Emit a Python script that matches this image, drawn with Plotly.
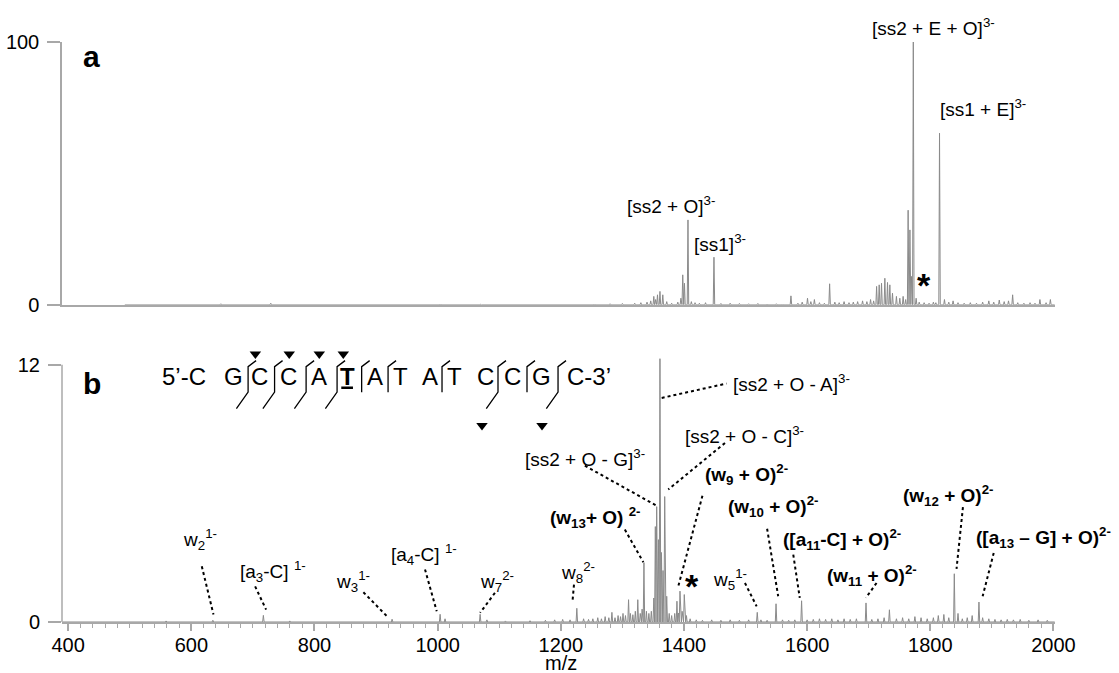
import plotly.graph_objects as go

# ---------------- data ----------------
top_mz = [648, 729, 1005, 1070, 1150, 1210, 1255, 1280, 1300, 1320, 1330, 1340, 1346, 1351, 1354, 1357,
          1361, 1365.6, 1372, 1380, 1390, 1395, 1398, 1400.8, 1406.5, 1412, 1418, 1425, 1435, 1448.7,
          1460, 1475, 1490, 1505, 1520, 1535, 1550, 1560, 1573.7, 1585, 1592, 1600.6, 1606, 1611.8,
          1620, 1628, 1636.5, 1645, 1652, 1660, 1668, 1675, 1682, 1690, 1697, 1703, 1708, 1712.8,
          1717, 1720.8, 1726.2, 1730.5, 1734.3, 1738.6, 1745, 1750.5, 1755.9, 1760, 1764, 1766.9,
          1769.6, 1772.4, 1777, 1782, 1790, 1798, 1805, 1809, 1815, 1823, 1830, 1837, 1845, 1855,
          1865, 1875, 1885, 1895, 1903, 1912, 1920, 1927, 1933.7, 1942, 1952, 1962, 1970, 1978,
          1988, 1995]
top_int = [0.4, 0.6, 0.3, 0.2, 0.2, 0.2, 0.3, 0.4, 0.5, 0.6, 0.8, 1.0, 1.5, 3.2, 2.0, 3.8,
           5.1, 3.8, 1.2, 0.6, 1.0, 2.5, 11.4, 8.2, 32.3, 1.2, 0.8, 0.6, 0.8, 18.1,
           0.5, 0.6, 0.5, 0.4, 0.5, 0.3, 0.4, 0.3, 3.4, 0.6, 1.0, 2.5, 1.2, 2.0,
           0.8, 0.6, 8.0, 1.0, 0.8, 1.2, 0.8, 1.0, 1.2, 1.5, 1.2, 2.0, 1.5, 7.0,
           7.6, 8.2, 10.1, 8.5, 7.6, 4.4, 3.2, 2.5, 3.2, 2.0, 36.0, 28.5,
           10.8, 100.0, 2.5, 1.0, 0.8, 0.6, 1.0, 0.8, 65.3, 2.0, 1.0, 1.5, 0.8, 0.6,
           0.8, 0.6, 1.0, 1.5, 1.0, 1.8, 1.2, 1.5, 3.8, 0.8, 0.6, 0.8, 0.6, 2.0,
           0.8, 2.0]

bot_mz = [559, 635, 717, 760, 926, 1004, 1012, 1069, 1080, 1110, 1150, 1175, 1190, 1203, 1215, 1226,
          1237, 1245, 1252, 1260, 1266, 1272, 1278, 1283, 1288, 1293, 1297, 1301, 1305, 1310, 1313,
          1317, 1321, 1325, 1329, 1332, 1335, 1339, 1343, 1347, 1351, 1353.5, 1355.7, 1358.5, 1361,
          1363.5, 1366, 1368.7, 1372, 1376, 1380, 1385, 1388.6, 1391, 1393.5, 1397, 1400.5, 1404,
          1410, 1420, 1430, 1445, 1460, 1475, 1490, 1505, 1519, 1525, 1535, 1549.5, 1560, 1570,
          1580, 1591, 1600, 1610, 1620, 1630, 1640, 1650, 1660, 1670, 1680, 1695.6, 1705, 1715,
          1725, 1733.6, 1745, 1755, 1765, 1775, 1785, 1795, 1805, 1813, 1822, 1830, 1839, 1845,
          1852, 1860, 1868, 1879, 1885, 1895, 1905, 1915, 1925, 1935, 1946, 1960, 1975, 1990]
bot_int = [0.05, 0.08, 0.31, 0.05, 0.13, 0.36, 0.15, 0.36, 0.1, 0.05, 0.06, 0.08, 0.1, 0.12, 0.1, 0.64,
           0.15, 0.12, 0.15, 0.2, 0.15, 0.25, 0.2, 0.45, 0.2, 0.3, 0.25, 0.4, 0.3, 1.04, 0.4,
           0.34, 0.5, 1.04, 0.4, 0.6, 2.77, 0.5, 0.4, 0.5, 1.12, 4.45, 5.38, 3.84, 12.28,
           3.24, 2.4, 5.85, 1.2, 0.4, 0.3, 0.4, 0.97, 0.42, 1.44, 0.5, 1.28, 0.3,
           0.15, 0.1, 0.08, 0.1, 0.08, 0.1, 0.08, 0.1, 0.45, 0.1, 0.08, 0.85, 0.1, 0.08,
           0.1, 0.99, 0.1, 0.12, 0.15, 0.12, 0.15, 0.1, 0.15, 0.12, 0.15, 0.89, 0.12, 0.15,
           0.2, 0.57, 0.15, 0.2, 0.15, 0.25, 0.2, 0.15, 0.2, 0.3, 0.35, 0.2, 2.25, 0.4,
           0.15, 0.2, 0.3, 0.93, 0.2, 0.15, 0.12, 0.1, 0.12, 0.1, 0.12, 0.08, 0.1, 0.08]

x_ticks = [400, 600, 800, 1000, 1200, 1400, 1600, 1800, 2000]

# panel a labels
top_lab_text = ["[ss1 + E]<sup>3-</sup>", "[ss2 + O]<sup>3-</sup>", "[ss1]<sup>3-</sup>"]
top_lab_x = [1886, 1379, 1458.5]
top_lab_y = [74.9, 38, 23.6]
top_head_text = "[ss2 + E + O]<sup>3-</sup>"   # sits above the 100 % line
top_head_x = 1806
top_head_y_paper = 1.026

# panel b labels + dotted leader lines
bot_lab_text = ["w<sub>2</sub><sup>1-</sup>", "[a<sub>3</sub>-C] <sup>1-</sup>", "w<sub>3</sub><sup>1-</sup>",
                "[a<sub>4</sub>-C] <sup>1-</sup>", "w<sub>7</sub><sup>2-</sup>", "w<sub>8</sub><sup>2-</sup>",
                "<b>(w<sub>13</sub>+ O) <sup>2-</sup></b>", "[ss2 + O - G]<sup>3-</sup>",
                "[ss2 + O - A]<sup>3-</sup>", "[ss2 + O - C]<sup>3-</sup>",
                "<b>(w<sub>9</sub> + O)<sup>2-</sup></b>", "<b>(w<sub>10</sub> + O)<sup>2-</sup></b>",
                "<b>([a<sub>11</sub>-C] + O)<sup>2-</sup></b>", "w<sub>5</sub><sup>1-</sup>",
                "<b>(w<sub>11</sub> + O)<sup>2-</sup></b>", "<b>(w<sub>12</sub> + O)<sup>2-</sup></b>",
                "<b>([a<sub>13</sub> – G] + O)<sup>2-</sup></b>"]
bot_lab_x = [613.5, 732, 862, 978, 1097, 1228, 1257, 1239, 1575, 1499, 1502, 1546, 1656, 1474.7, 1706, 1830, 1984]
bot_lab_y = [3.85, 2.37, 1.90, 3.14, 1.90, 2.31, 4.87, 7.66, 11.14, 8.74, 6.87, 5.39, 3.85, 1.98, 2.16, 5.89, 3.93]
lead_x0 = [617, 703.6, 879.4, 979.5, 1093, 1221.4, 1304, 1239, 1363.8, 1466.6, 1430, 1535, 1577.5, 1499, 1712.7, 1853, 1903]
lead_y0 = [2.60, 1.66, 1.39, 2.45, 1.36, 1.74, 4.31, 7.29, 10.45, 8.35, 5.89, 4.35, 3.14, 1.82, 1.82, 5.36, 3.22]
lead_x1 = [636, 721.4, 920, 998.5, 1069, 1219, 1334, 1354.5, 1469, 1374.5, 1390.7, 1553, 1588, 1518, 1695.5, 1842.6, 1885]
lead_y1 = [0.35, 0.58, 0.20, 0.50, 0.43, 0.97, 2.79, 5.44, 11.12, 6.18, 1.66, 1.20, 1.13, 0.73, 1.13, 2.48, 1.20]

star_top = (1789.6, 7.6)
star_bot = (1412.5, 1.66)

# sequence drawing (panel b)
seq_letters = ["5’-C", "G", "C", "C", "A", "<b>T</b>", "A", "T", "A", "T", "C", "C", "G", "C-3’"]
seq_x = [588.3, 667.9, 710, 757.1, 807.5, 852.9, 898.4, 939.8, 986.9, 1026.6, 1076.9, 1120.8, 1167.9, 1245.8]
seq_y = 11.44
cut_x = [692.2, 735.2, 786.4, 836.7, 876.6, 919.5, 1007.1, 1098, 1145.1, 1195.5]
cut_bottom_hook = [True, True, True, True, False, False, False, True, False, True]
arrow_top_x = [704, 759, 807.8, 846.8]
arrow_top_y = [12.5, 12.5, 12.5, 12.5]
arrow_bot_x = [1072, 1169.5]
arrow_bot_y = [9.16, 9.16]

# ---------------- figure ----------------
X_RANGE = [390, 2002.5]
SPEC = "#8a8a8a"
AX = "#a8a8a8"
FONT = "Liberation Sans, Arial, sans-serif"


def profile(mz, inten, start, end, hw=1.2):
    xs, ys = [start], [0]
    for m, h in sorted(zip(mz, inten)):
        xs += [m - hw, m, m + hw]
        ys += [0, h, 0]
    xs.append(end)
    ys.append(0)
    return xs, ys


fig = go.Figure()
tx, ty = profile(top_mz, top_int, 492, 2002)
bx, by = profile(bot_mz, bot_int, 391, 2002)
fig.add_trace(go.Scatter(x=tx, y=ty, mode="lines", line=dict(color=SPEC, width=1), xaxis="x", yaxis="y",
                         hoverinfo="skip", showlegend=False))
fig.add_trace(go.Scatter(x=bx, y=by, mode="lines", line=dict(color=SPEC, width=1), xaxis="x2", yaxis="y2",
                         hoverinfo="skip", showlegend=False))
fig.add_trace(go.Scatter(x=arrow_top_x + arrow_bot_x, y=arrow_top_y + arrow_bot_y, mode="markers",
                         marker=dict(symbol="triangle-down", size=10, color="black"), cliponaxis=False,
                         xaxis="x2", yaxis="y2", hoverinfo="skip", showlegend=False))

ann = []
shapes = []
for t, x, y in zip(top_lab_text, top_lab_x, top_lab_y):
    ann.append(dict(text=t, x=x, y=y, xref="x", yref="y", showarrow=False, xanchor="center", yanchor="middle",
                    font=dict(size=19, color="black", family=FONT)))
ann.append(dict(text=top_head_text, x=top_head_x, y=top_head_y_paper, xref="x", yref="paper", showarrow=False,
                xanchor="center", yanchor="middle", font=dict(size=19, color="black", family=FONT)))
for t, x, y in zip(bot_lab_text, bot_lab_x, bot_lab_y):
    ann.append(dict(text=t, x=x, y=y, xref="x2", yref="y2", showarrow=False, xanchor="center", yanchor="middle",
                    font=dict(size=19, color="black", family=FONT)))
for x0, y0, x1, y1 in zip(lead_x0, lead_y0, lead_x1, lead_y1):
    shapes.append(dict(type="line", x0=x0, y0=y0, x1=x1, y1=y1, xref="x2", yref="y2",
                       line=dict(color="black", width=2, dash="dot")))

ann.append(dict(text="<b>*</b>", x=star_top[0], y=star_top[1], xref="x", yref="y", showarrow=False,
                font=dict(size=34, color="black", family=FONT), yanchor="middle"))
ann.append(dict(text="<b>*</b>", x=star_bot[0], y=star_bot[1], xref="x2", yref="y2", showarrow=False,
                font=dict(size=34, color="black", family=FONT), yanchor="middle"))
ann.append(dict(text="<b>a</b>", x=438.5, y=94.4, xref="x", yref="y", showarrow=False,
                font=dict(size=30, color="black", family=FONT)))
ann.append(dict(text="<b>b</b>", x=438, y=11.11, xref="x2", yref="y2", showarrow=False,
                font=dict(size=30, color="black", family=FONT)))
ann.append(dict(text="m/z", x=1200, y=-0.0715, xref="x2", yref="paper", showarrow=False, yanchor="middle",
                font=dict(size=20, color="black", family=FONT)))

for t, x in zip(seq_letters, seq_x):
    ann.append(dict(text=t, x=x, y=seq_y, xref="x2", yref="y2", showarrow=False, xanchor="center",
                    yanchor="middle", font=dict(size=24, color="black", family=FONT)))
# underline of T
shapes.append(dict(type="line", x0=843.5, x1=862.5, y0=10.93, y1=10.93, xref="x2", yref="y2",
                   line=dict(color="black", width=2.5)))
# cleavage marks
for cx, bh in zip(cut_x, cut_bottom_hook):
    path = f"M {cx + 13},{12.19} L {cx},{11.91} L {cx},{10.72}"
    if bh:
        path += f" L {cx - 19},{9.95}"
    shapes.append(dict(type="path", path=path, xref="x2", yref="y2", line=dict(color="black", width=1.3)))

# left axis line of panel b (stops at 12)
shapes.append(dict(type="line", x0=0, x1=0, y0=0, y1=12, xref="x2 domain", yref="y2",
                   line=dict(color=AX, width=1.5)))

fig.update_layout(
    width=1119, height=673,
    margin=dict(l=62, r=64, t=42, b=50.5, autoexpand=False),
    paper_bgcolor="white", plot_bgcolor="white",
    font=dict(family=FONT, color="black", size=20),
    showlegend=False,
    xaxis=dict(domain=[0, 1], anchor="y", range=X_RANGE, showline=True, linecolor=AX, linewidth=1.5,
               showticklabels=False, ticks="", showgrid=False, zeroline=False, automargin=False),
    yaxis=dict(domain=[0.5469, 1], anchor="x", range=[0, 100], tickvals=[0, 100], ticks="outside", ticklen=13,
               tickcolor=AX, tickwidth=1.5, showline=True, linecolor=AX, linewidth=1.5, showgrid=False,
               zeroline=False, tickfont=dict(size=20), ticklabelstandoff=4, automargin=False),
    xaxis2=dict(domain=[0, 1], anchor="y2", range=X_RANGE, showline=True, linecolor=AX, linewidth=1.5,
                tickvals=x_ticks, ticks="outside", ticklen=7, tickcolor=AX, tickwidth=1.5,
                minor=dict(tick0=400, dtick=20, ticks="outside", ticklen=4, tickcolor=AX, tickwidth=1),
                showgrid=False, zeroline=False, tickfont=dict(size=20), ticklabelstandoff=-3, automargin=False),
    yaxis2=dict(domain=[0, 0.4658], anchor="x2", range=[0, 12.6], tickvals=[0, 12], ticks="outside",
                ticklen=13, tickcolor=AX, tickwidth=1.5, showline=False, showgrid=False, zeroline=False,
                tickfont=dict(size=20), ticklabelstandoff=4, automargin=False),
    annotations=ann,
    shapes=shapes,
)

fig.write_html("out.html", config={"displayModeBar": False},
               post_script="document.body.style.margin='0';document.body.style.overflow='hidden';")
